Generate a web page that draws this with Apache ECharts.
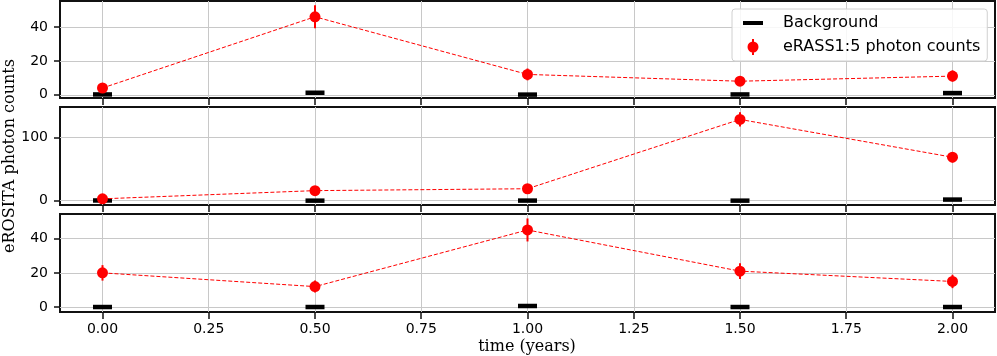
<!DOCTYPE html>
<html>
<head>
<meta charset="utf-8">
<script src="https://cdn.jsdelivr.net/npm/echarts@6/dist/echarts.min.js"></script>
<style>
html, body { margin: 0; padding: 0; background: #fff; }
#main { width: 997px; height: 356px; }
</style>
</head>
<body>
<div id="main"></div>
<script>
var times = [0, 0.5, 1.0, 1.5, 2.0];
var xTicks = [0, 0.25, 0.5, 0.75, 1.0, 1.25, 1.5, 1.75, 2.0];

// top panel
var counts1 = [4, 46, 12, 8, 11];
var errors1 = [2.0, 6.8, 3.5, 2.8, 3.3];
var background1 = [0.2, 1.2, 0.1, 0.2, 1.0];
var yTicks1 = [0, 20, 40];

// middle panel
var counts2 = [3, 16, 19, 129, 69];
var errors2 = [1.7, 4.0, 4.4, 11.4, 8.3];
var background2 = [0.4, 0.1, 0.2, 0.1, 1.8];
var yTicks2 = [0, 100];

// bottom panel
var counts3 = [20, 12, 45, 21, 15];
var errors3 = [4.5, 3.5, 6.7, 4.6, 3.9];
var background3 = [0.1, 0.1, 0.7, 0.1, 0.1];
var yTicks3 = [0, 20, 40];

var bgName = 'Background';
var ptName = 'eRASS1:5 photon counts';

var panels = [
    { counts: counts1, errors: errors1, bg: background1, ticks: yTicks1, min: -1.9, max: 55.3, top: 1, height: 97 },
    { counts: counts2, errors: errors2, bg: background2, ticks: yTicks2, min: -6.8, max: 148.7, top: 107, height: 98 },
    { counts: counts3, errors: errors3, bg: background3, ticks: yTicks3, min: -2.8, max: 54.3, top: 214, height: 98 }
];

var gridColor = '#c8c8c8';
var grids = [], xAxes = [], yAxes = [], series = [];

panels.forEach(function (p, i) {
    var last = i === panels.length - 1;
    grids.push({
        left: 60, right: 2, top: p.top, height: p.height,
        show: true, borderColor: '#111', borderWidth: 2, backgroundColor: '#fff'
    });
    xAxes.push({
        type: 'value', gridIndex: i, min: -0.1, max: 2.1, position: 'bottom',
        axisLine: { show: false, onZero: false },
        axisTick: { show: true, length: 7, inside: false, customValues: xTicks, lineStyle: { color: '#111', width: 1.5 } },
        axisLabel: { show: last, customValues: xTicks, margin: 10, color: '#000', fontSize: 14, fontFamily: 'DejaVu Sans',
            formatter: function (v) { return v.toFixed(2); } },
        splitLine: { show: true, lineStyle: { color: gridColor, width: 1 } }
    });
    yAxes.push({
        type: 'value', gridIndex: i, min: p.min, max: p.max, position: 'left',
        axisLine: { show: false, onZero: false },
        axisTick: { show: true, length: 6, customValues: p.ticks, lineStyle: { color: '#111', width: 1.5 } },
        axisLabel: { customValues: p.ticks, margin: 12, color: '#000', fontSize: 14, fontFamily: 'DejaVu Sans' },
        splitLine: { show: true, lineStyle: { color: gridColor, width: 1 } }
    });

    series.push({
        name: bgName, type: 'scatter', xAxisIndex: i, yAxisIndex: i,
        symbol: 'rect', symbolSize: [19, 4.5],
        itemStyle: { color: '#000', opacity: 1 },
        data: times.map(function (t, k) { return [t, p.bg[k]]; }),
        z: 3
    });
    series.push({
        name: 'err' + i, type: 'custom', xAxisIndex: i, yAxisIndex: i,
        encode: { x: 0, y: [1, 2] },
        renderItem: function (params, api) {
            var a = api.coord([api.value(0), api.value(1)]);
            var b = api.coord([api.value(0), api.value(2)]);
            return { type: 'line', shape: { x1: a[0], y1: a[1], x2: b[0], y2: b[1] },
                style: { stroke: '#ff0000', lineWidth: 2 } };
        },
        data: times.map(function (t, k) { return [t, p.counts[k] - p.errors[k], p.counts[k] + p.errors[k]]; }),
        z: 4
    });
    series.push({
        name: ptName, type: 'line', xAxisIndex: i, yAxisIndex: i,
        symbol: 'circle', symbolSize: 11, showSymbol: true,
        itemStyle: { color: '#ff0000', opacity: 1 },
        lineStyle: { color: '#ff0000', width: 1, type: [4, 2] },
        data: times.map(function (t, k) { return [t, p.counts[k]]; }),
        z: 5
    });
});

var chart = echarts.init(document.getElementById('main'));
chart.setOption({
    animation: false,
    grid: grids,
    xAxis: xAxes,
    yAxis: yAxes,
    legend: {
        orient: 'vertical', left: 732, top: 9,
        padding: [5, 7, 5, 10],
        itemWidth: 36, itemHeight: 18, itemGap: 6,
        backgroundColor: 'rgba(255,255,255,0.85)',
        borderColor: '#d0d0d0', borderWidth: 1, borderRadius: 3,
        selectedMode: false,
        textStyle: { fontSize: 16, fontFamily: 'DejaVu Sans', color: '#000' },
        itemStyle: { borderWidth: 0, opacity: 1 },
        data: [
            { name: bgName, icon: 'path://M0,0M36,18M1,7H21V11H1Z' },
            { name: ptName, icon: 'path://M0,0M36,18M5.5,9A5.5,5.5,0,1,1,16.5,9A5.5,5.5,0,1,1,5.5,9ZM10,1H12V17H10Z' }
        ],
        z: 10
    },
    graphic: [
        { type: 'text', x: 10, y: 156, rotation: Math.PI / 2,
          style: { text: 'eROSITA photon counts', x: 0, y: 0, align: 'center', verticalAlign: 'middle',
                   font: '16px "DejaVu Serif"', fill: '#000' } },
        { type: 'text', x: 527, y: 347,
          style: { text: 'time (years)', x: 0, y: 0, align: 'center', verticalAlign: 'middle',
                   font: '16px "DejaVu Serif"', fill: '#000' } }
    ],
    series: series
});
</script>
</body>
</html>
